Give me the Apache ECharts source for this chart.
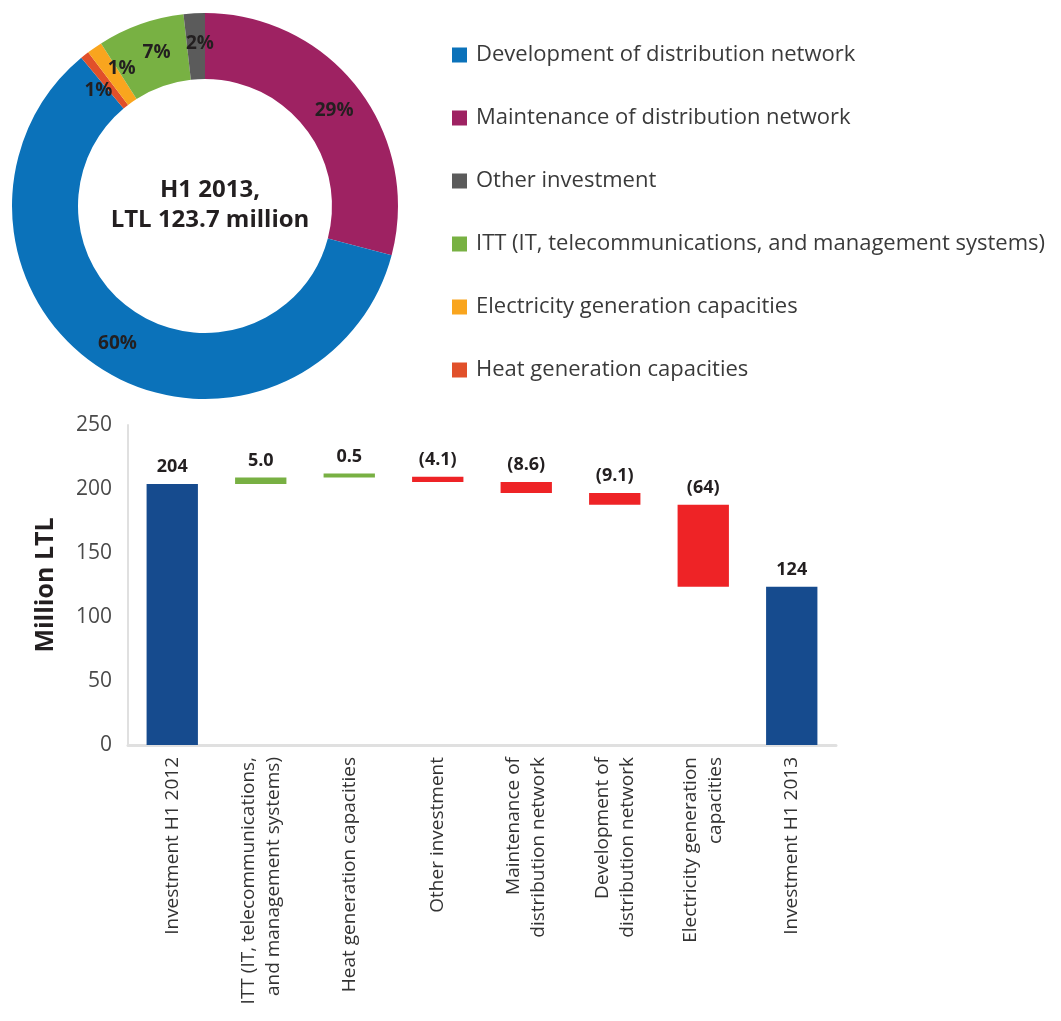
<!DOCTYPE html>
<html>
<head>
<meta charset="utf-8">
<script src="https://cdn.jsdelivr.net/npm/echarts@6/dist/echarts.min.js"></script>
<style>
  html, body { margin: 0; padding: 0; background: #fff; }
  #main { width: 1061px; height: 1021px; }
</style>
</head>
<body>
<div id="main"></div>
<script>
// donut: H1 2013 investment split, million LTL
const pieNames = [
  'Maintenance of distribution network',
  'Development of distribution network',
  'Heat generation capacities',
  'Electricity generation capacities',
  'ITT (IT, telecommunications, and management systems)',
  'Other investment'
];
const pieValues = [36.0, 74.0, 0.9, 1.6, 9.0, 2.2];
const pieColors = ['#9E2262', '#0B72BA', '#E1502A', '#F9A51E', '#78B143', '#5B5B5B'];
// small nudges so the two 1% labels don't sit on top of each other
const pieLabelOffsets = [[0, 4], [0, 0], [-5, 12], [10, -4], [6, 0], [4, 0]];
const legendOrder = [
  'Development of distribution network',
  'Maintenance of distribution network',
  'Other investment',
  'ITT (IT, telecommunications, and management systems)',
  'Electricity generation capacities',
  'Heat generation capacities'
];

// waterfall
const wfCategories = [
  'Investment H1 2012',
  'ITT (IT, telecommunications,\nand management systems)',
  'Heat generation capacities',
  'Other investment',
  'Maintenance of\ndistribution network',
  'Development of\ndistribution network',
  'Electricity generation\ncapacities',
  'Investment H1 2013'
];
const startValue = 204;
const changes = [5.0, 0.5, -4.1, -8.6, -9.1, -64];
const valueLabels = ['204', '5.0', '0.5', '(4.1)', '(8.6)', '(9.1)', '(64)', '124'];

// build base + visible parts
const baseData = [0];
const barData = [{ value: startValue, itemStyle: { color: '#164B8E' } }];
let running = startValue;
changes.forEach(c => {
  if (c >= 0) {
    baseData.push(running);
    barData.push({ value: c, itemStyle: { color: '#78B043' } });
  } else {
    baseData.push(running + c);
    barData.push({ value: -c, itemStyle: { color: '#EE2326' } });
  }
  running += c;
});
baseData.push(0);
barData.push({ value: running, itemStyle: { color: '#164B8E' } });

const chart = echarts.init(document.getElementById('main'));

chart.setOption({
  animation: false,
  textStyle: { fontFamily: 'Open Sans' },
  title: {
    text: 'H1 2013,\nLTL 123.7 million',
    left: 205,
    top: 170,
    textAlign: 'center',
    textStyle: { fontSize: 24, fontWeight: 'bold', color: '#231F20', lineHeight: 30, fontFamily: 'Open Sans' }
  },
  legend: {
    orient: 'vertical',
    left: 447,
    top: 38,
    data: legendOrder,
    icon: 'rect',
    itemWidth: 15,
    itemHeight: 15,
    itemGap: 39,
    textStyle: { fontSize: 22, color: '#3a3a3a', lineHeight: 24, padding: [0, 0, 0, 4], fontFamily: 'Open Sans' }
  },
  grid: { left: 128, right: 225, top: 425, bottom: 276, containLabel: false },
  xAxis: {
    type: 'category',
    data: wfCategories,
    axisLine: { lineStyle: { color: '#e0e0e0', width: 3 } },
    axisTick: { length: 7, lineStyle: { color: '#e0e0e0', width: 2 } },
    axisLabel: { rotate: 90, interval: 0, fontSize: 19, lineHeight: 25, color: '#333', margin: 12 }
  },
  yAxis: {
    type: 'value',
    min: 0,
    max: 250,
    interval: 50,
    name: 'Million LTL',
    nameLocation: 'middle',
    nameGap: 70,
    nameTextStyle: { fontSize: 25, fontWeight: 'bold', color: '#231F20' },
    axisLine: { show: true, lineStyle: { color: '#e0e0e0', width: 2 } },
    axisTick: { show: false },
    splitLine: { show: false },
    axisLabel: { fontSize: 21, color: '#4a4a4a', margin: 16 }
  },
  series: [
    {
      type: 'pie',
      center: [205, 206],
      radius: [127, 193],
      startAngle: 90,
      clockwise: true,
      avoidLabelOverlap: false,
      data: pieNames.map((n, i) => ({
        name: n,
        value: pieValues[i],
        itemStyle: { color: pieColors[i] },
        label: { offset: pieLabelOffsets[i] }
      })),
      label: {
        position: 'inside',
        formatter: p => Math.round(p.percent) + '%',
        fontSize: 19,
        fontWeight: 'bold',
        color: '#231F20'
      },
      labelLine: { show: false },
      emphasis: { disabled: true }
    },
    {
      type: 'bar',
      stack: 'wf',
      data: baseData,
      itemStyle: { color: 'transparent' },
      emphasis: { disabled: true },
      tooltip: { show: false }
    },
    {
      type: 'bar',
      stack: 'wf',
      data: barData,
      barWidth: '58%',
      barMinHeight: 4,
      label: {
        show: true,
        position: 'top',
        distance: 8,
        formatter: p => valueLabels[p.dataIndex],
        fontSize: 18,
        fontWeight: 'bold',
        color: '#231F20'
      }
    }
  ]
});
</script>
</body>
</html>
